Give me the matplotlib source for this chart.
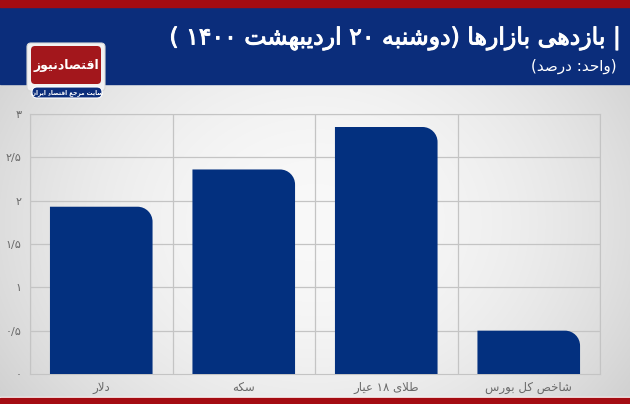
import matplotlib
matplotlib.use("Agg")
import matplotlib.pyplot as plt
import matplotlib.patheffects as pe
import numpy as np
from matplotlib.path import Path
from matplotlib.patches import PathPatch, FancyBboxPatch, Rectangle

# data (percent)
categories = ["دلار", "سکه", "طلای ۱۸ عیار", "شاخص کل بورس"]
returns = [1.93, 2.36, 2.85, 0.50]
yticks = [0, 0.5, 1, 1.5, 2, 2.5, 3]
ytick_labels = ["۰", "۰/۵", "۱", "۱/۵", "۲", "۲/۵", "۳"]
title = "| بازدهی بازارها (دوشنبه ۲۰ اردیبهشت ۱۴۰۰ )"
subtitle = "(واحد: درصد)"
logo_text = "اقتصادنیوز"
logo_sub = "سایت مرجع اقتصاد ایران"

# --- minimal Persian shaping + visual reordering (no arabic_reshaper here) ---
DUAL = {
    "ب": "ﺏﺐﺑﺒ", "ت": "ﺕﺖﺗﺘ", "ج": "ﺝﺞﺟﺠ", "ح": "ﺡﺢﺣﺤ", "خ": "ﺥﺦﺧﺨ",
    "س": "ﺱﺲﺳﺴ", "ش": "ﺵﺶﺷﺸ", "ص": "ﺹﺺﺻﺼ", "ط": "ﻁﻂﻃﻄ", "ع": "ﻉﻊﻋﻌ",
    "ق": "ﻕﻖﻗﻘ", "ک": "ﮎﮏﮐﮑ", "ل": "ﻝﻞﻟﻠ", "م": "ﻡﻢﻣﻤ", "ن": "ﻥﻦﻧﻨ",
    "ه": "ﻩﻪﻫﻬ", "ی": "ﯼﯽﯾﯿ",
}
RIGHT = {"ا": "ﺍﺎ", "د": "ﺩﺪ", "ر": "ﺭﺮ", "ز": "ﺯﺰ", "و": "ﻭﻮ"}


def fa(s):
    out = []
    i = 0
    prev_dual = False
    while i < len(s):
        c = s[i]
        if c == "ل" and i + 1 < len(s) and s[i + 1] == "ا":
            out.append("ﻼ" if prev_dual else "ﻻ")
            prev_dual = False
            i += 2
            continue
        if c in DUAL or c in RIGHT:
            nxt = s[i + 1] if i + 1 < len(s) else ""
            nj = c in DUAL and (nxt in DUAL or nxt in RIGHT)
            if c in DUAL:
                f = DUAL[c]
                out.append(f[3] if prev_dual and nj else f[1] if prev_dual else f[2] if nj else f[0])
            else:
                out.append(RIGHT[c][1] if prev_dual else RIGHT[c][0])
            prev_dual = c in DUAL
        else:
            out.append(c)
            prev_dual = False
        i += 1
    vis = "".join(out)[::-1]
    vis = vis.translate(str.maketrans("()", ")("))
    # keep digit runs left-to-right
    res, run = [], ""
    for ch in vis:
        if ch.isdigit():
            run += ch
        else:
            res.append(run[::-1]); run = ""
            res.append(ch)
    res.append(run[::-1])
    return "".join(res)


FONT = ["DejaVu Sans"]
plt.rcParams["font.family"] = FONT

W, H = 630, 404
fig = plt.figure(figsize=(W / 100, H / 100), dpi=100)

# background: gray vignette, blue banner, red strips
bg = fig.add_axes([0, 0, 1, 1])
bg.set_xlim(0, W); bg.set_ylim(H, 0); bg.axis("off")
yy, xx = np.mgrid[0:H, 0:W]
d = np.sqrt(((xx - W * 0.5) / (W * 0.55)) ** 2 + ((yy - H * 0.55) / (H * 0.7)) ** 2)
g = np.clip(0.975 - 0.13 * d ** 2, 0.80, 0.975)
bg.imshow(np.dstack([g, g, g]), extent=[0, W, H, 0], aspect="auto", zorder=0)
bg.add_patch(Rectangle((0, 0), W, 84, color="#0b2d7b", zorder=1))
bg.add_patch(Rectangle((0, 0), W, 7, color="#a40c12", zorder=2))
bg.add_patch(Rectangle((0, 397), W, 1.2, color="#ffffff", zorder=2))
bg.add_patch(Rectangle((0, 398), W, 6, color="#a40c12", zorder=2))

# logo
bg.add_patch(FancyBboxPatch((27, 43), 78, 48, boxstyle="round,pad=0,rounding_size=4",
                            fc="#f2f2f2", ec="#d8d8d8", lw=0.8, zorder=3))
bg.add_patch(FancyBboxPatch((31, 46), 70, 38, boxstyle="round,pad=0,rounding_size=4",
                            fc="#a3171c", ec="none", zorder=4))
bg.text(66, 65, fa(logo_text), color="white", fontsize=9, fontweight="bold",
        ha="center", va="center", zorder=5)
bg.add_patch(FancyBboxPatch((32, 87), 70, 11, boxstyle="round,pad=0,rounding_size=5",
                            fc="#0b2d7b", ec="#ffffff", lw=0.8, zorder=4))
bg.text(67, 92.5, fa(logo_sub), color="white", fontsize=4.2, fontweight="bold",
        ha="center", va="center", zorder=5)

# titles
bg.text(621, 38, fa(title), color="white", fontsize=17, ha="right", va="center", zorder=5,
        path_effects=[pe.withStroke(linewidth=0.7, foreground="white")])
bg.text(617, 66, fa(subtitle), color="white", fontsize=11, ha="right", va="center", zorder=5)

# chart
ax = fig.add_axes([30 / W, (H - 374) / H, 570 / W, 260 / H])
ax.patch.set_alpha(0)
n = len(categories)
x = np.arange(n)
ax.set_xlim(-0.5, n - 0.5)
ax.set_ylim(0, 3)
for yv in yticks[1:]:
    ax.axhline(yv, color="#c4c4c4", lw=0.9, zorder=1)
for xv in np.arange(n + 1) - 0.5:
    ax.axvline(xv, color="#c4c4c4", lw=0.9, zorder=1)
for s in ax.spines.values():
    s.set_color("#c4c4c4")

bw = 0.72
sx = 570 / n  # px per x unit
sy = 260 / 3  # px per y unit
r = 15
rx, ry = r / sx, r / sy
k = 0.5523
for xi, h in zip(x, returns):
    x0, x1 = xi - bw / 2, xi + bw / 2
    verts = [(x0, 0), (x1, 0), (x1, h - ry),
             (x1, h - ry + k * ry), (x1 - rx + k * rx, h), (x1 - rx, h),
             (x0, h), (x0, 0)]
    codes = [Path.MOVETO, Path.LINETO, Path.LINETO,
             Path.CURVE4, Path.CURVE4, Path.CURVE4,
             Path.LINETO, Path.CLOSEPOLY]
    ax.add_patch(PathPatch(Path(verts, codes), fc="#03307f", ec="none", zorder=3))

ax.set_yticks(yticks)
ax.set_yticklabels(ytick_labels, color="#6a6a6a", fontsize=8)
ax.set_xticks(x)
ax.set_xticklabels([fa(c) for c in categories], color="#6a6a6a", fontsize=8.5)
ax.tick_params(length=0, pad=6)
ax.tick_params(axis="x", pad=5)

fig.savefig("out.png", dpi=100)
